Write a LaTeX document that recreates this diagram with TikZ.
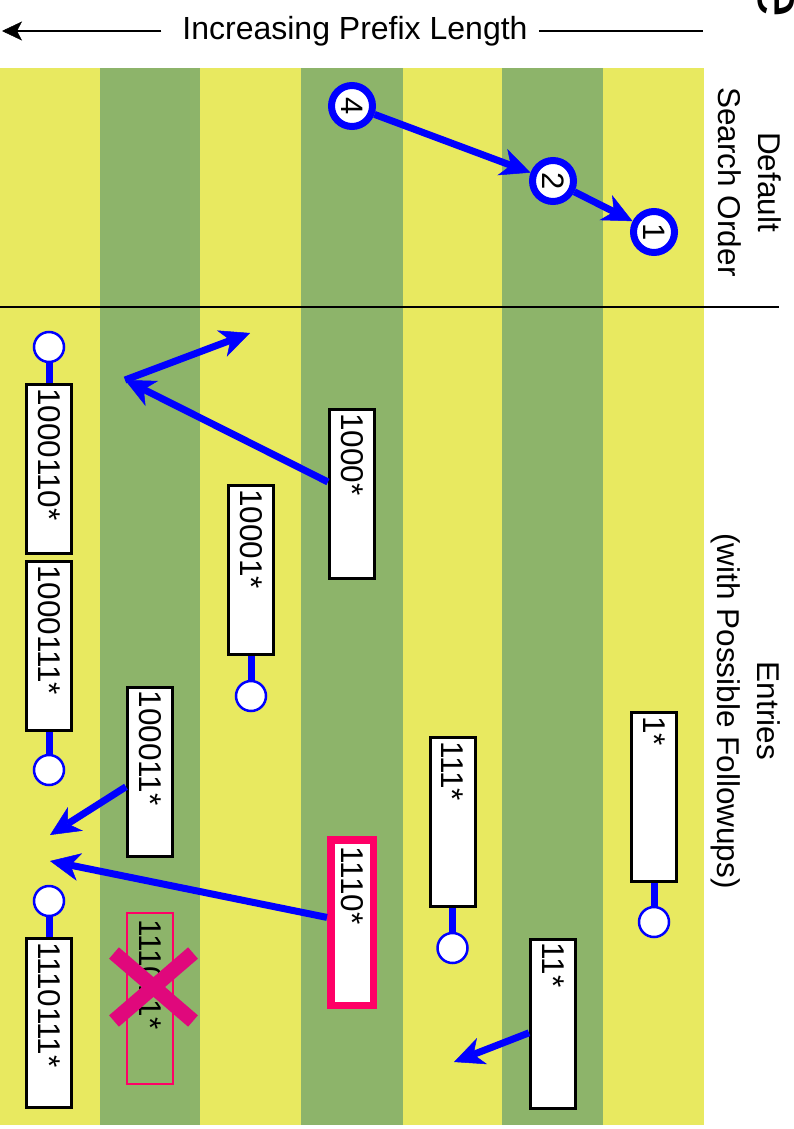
\documentclass[tikz,border=0pt]{standalone}
\usepackage{fontspec}
\setmainfont{Liberation Sans}
\usetikzlibrary{arrows.meta}
\definecolor{stripeyellow}{RGB}{232,233,96}
\definecolor{stripegreen}{RGB}{141,180,106}
\definecolor{hotred}{RGB}{255,0,102}
\definecolor{crossmagenta}{RGB}{224,8,124}
\newcommand\lblfont{\fontsize{31.5}{40}\selectfont}
\newcommand\ordfont{\fontsize{31}{36}\selectfont}
\begin{document}
\begin{tikzpicture}[x=1pt,y=-1pt,
  hdrtext/.style={inner sep=0pt,font=\fontsize{32}{40}\selectfont},
  hdrline/.style={draw=black,line width=2.2pt},
  sidelabel/.style={rotate=-90,align=center,inner sep=0pt,font=\lblfont},
  ord/.style={circle,draw=blue,line width=7pt,fill=white,minimum size=41pt,inner sep=0pt,rotate=-90,font=\ordfont},
  entry/.style={rectangle,draw=black,line width=3pt,fill=white,rotate=-90,
    minimum height=45pt,inner xsep=3.5pt,inner ysep=0pt,text width=162pt,align=left,font=\lblfont},
  hot/.style={draw=hotred,line width=7.5pt,minimum height=42.5pt,inner xsep=7pt,text width=151.5pt},
  struck/.style={draw=hotred,line width=2pt,fill=none,minimum height=46pt,inner xsep=6pt,text width=159pt},
  knob/.style={circle,draw=blue,line width=2.5pt,fill=white,minimum size=30pt,inner sep=0pt},
  stem/.style={draw=blue,line width=7pt},
  arr/.style={draw=blue,line width=7pt,-{Stealth[length=30pt,width=28pt,inset=9pt,line width=0.5pt]}},
  xstroke/.style={draw=crossmagenta,line width=15pt}
]
\useasboundingbox (0,0) rectangle (794,1129);

% prefix-length columns
\foreach \a/\b/\c in {0/100/stripeyellow,100/200/stripegreen,200/301/stripeyellow,
    301/403/stripegreen,403/502/stripeyellow,502/603/stripegreen,603/704/stripeyellow}
  \fill[\c] (\a,68) rectangle (\b,1125);

% separator between search order and entries
\draw[line width=2.5pt] (0,307) -- (779,307);

% header with direction arrow
\node[hdrtext] (hdr) at (355,31) {Increasing Prefix Length};
\coordinate (hdrL) at (2,31);
\coordinate (hdrR) at (703,31);
\draw[hdrline,-{Stealth[length=20pt,width=19pt,inset=5pt,line width=0.5pt]}] ([xshift=-21pt]hdr.west) -- (hdrL);
\draw[hdrline] ([xshift=11pt]hdr.east) -- (hdrR);

% clipped glyph at the top edge
\node[rotate=-90,anchor=base east,inner sep=0pt,font=\fontsize{67}{67}\selectfont] (edgeglyph) at (758,18) {e};

% side labels
\node[sidelabel] (lblorder) at (750,182) {Default\\Search Order};
\node[sidelabel] (lblentries) at (746,711) {Entries\\(with Possible Followups)};

% default search order
\node[ord] (o4) at (352,106) {4};
\node[ord] (o2) at (553,181) {2};
\node[ord] (o1) at (654,232) {1};
\draw[arr] (o4) -- (o2);
\draw[arr] (o2) -- (o1);

% entries
\node[entry] (e1) at (654,797) {1*};
\node[entry] (e11) at (553,1023.5) {11*};
\node[entry] (e111) at (452.5,822) {111*};
\node[entry,hot] (e1110) at (352,922.5) {1110*};
\node[entry] (e1000) at (352,494) {1000*};
\node[entry] (e10001) at (251,570) {10001*};
\node[entry] (e100011) at (150,771.5) {100011*};
\node[entry,struck] (e111011) at (150,998.5) {111011*};
\node[entry] (e1000110) at (49,469) {1000110*};
\node[entry] (e1000111) at (49,646) {1000111*};
\node[entry] (e1110111) at (49,1023) {1110111*};

% followup knobs
\node[knob] (k1) at (654,922) {};
\node[knob] (k111) at (452.5,948) {};
\node[knob] (k10001) at (251,696) {};
\node[knob] (k1000110) at (49,347) {};
\node[knob] (k1000111) at (49,770) {};
\node[knob] (k1110111) at (49,901) {};
\draw[stem] (e1) -- (k1);
\draw[stem] (e111) -- (k111);
\draw[stem] (e10001) -- (k10001);
\draw[stem] (e1000110) -- (k1000110);
\draw[stem] (e1000111) -- (k1000111);
\draw[stem] (e1110111) -- (k1110111);

% jumps
\coordinate (t1) at (125,380);
\coordinate (t2) at (250,333);
\coordinate (t3) at (50,835);
\coordinate (t4) at (50,861);
\coordinate (t5) at (454,1062);
\draw[arr] (e1000) -- (t1);
\draw[arr] (t1) -- (t2);
\draw[arr] (e100011) -- (t3);
\draw[arr] (e1110) -- (t4);
\draw[arr] (e11) -- (t5);

% struck-out entry
\draw[xstroke] (114,953) -- (193,1021);
\draw[xstroke] (193,953) -- (114,1021);
\end{tikzpicture}
\end{document}
